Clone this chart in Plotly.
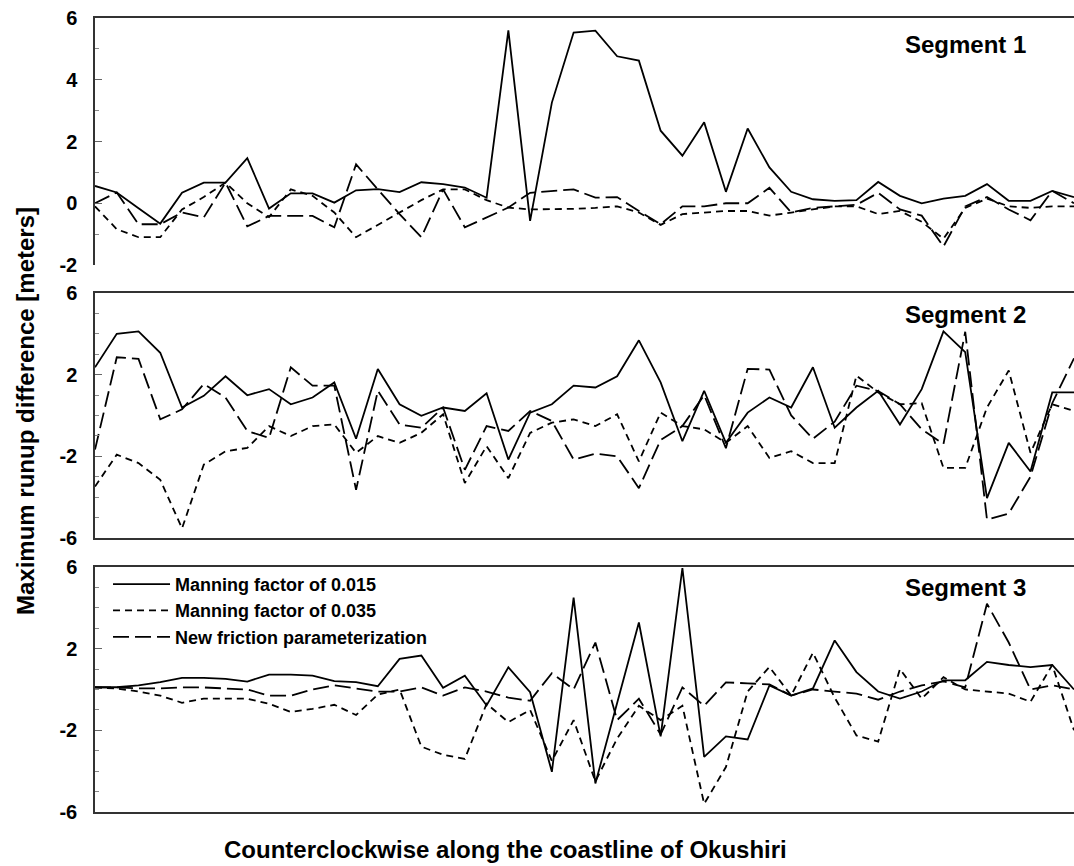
import plotly.graph_objects as go

# ---------------- data ----------------
positions = list(range(46))  # points counterclockwise along the coastline

series_names = ["Manning factor of 0.015", "Manning factor of 0.035", "New friction parameterization"]
segment_labels = ["Segment 1", "Segment 2", "Segment 3"]

seg1_n015 = [0.56, 0.35, -0.16, -0.66, 0.34, 0.67, 0.67, 1.46, -0.17, 0.32,
             0.32, 0.02, 0.42, 0.46, 0.36, 0.68, 0.62, 0.51, 0.18, 5.6,
             -0.57, 3.26, 5.53, 5.59, 4.76, 4.62, 2.35, 1.54, 2.62, 0.37,
             2.42, 1.16, 0.37, 0.13, 0.08, 0.10, 0.69, 0.24, 0.0, 0.15,
             0.24, 0.62, 0.08, 0.08, 0.40, 0.2]
seg1_n035 = [-0.1, -0.84, -1.1, -1.1, -0.2, 0.2, 0.67, 0.0, -0.45, 0.45,
             0.24, -0.3, -1.1, -0.7, -0.3, 0.1, 0.45, 0.45, 0.1, -0.14,
             -0.2, -0.2, -0.18, -0.15, -0.1, -0.3, -0.7, -0.35, -0.3, -0.25,
             -0.25, -0.4, -0.3, -0.2, -0.1, -0.1, -0.35, -0.25, -0.6, -1.15,
             -0.15, 0.15, -0.1, -0.15, -0.1, -0.1]
seg1_new = [0.0, 0.35, -0.68, -0.68, -0.3, -0.46, 0.67, -0.75, -0.41, -0.41,
            -0.41, -0.78, 1.26, 0.45, -0.35, -1.1, 0.45, -0.78, -0.45, -0.14,
            0.34, 0.4, 0.45, 0.18, 0.2, -0.25, -0.68, -0.1, -0.1, 0.0,
            0.0, 0.5, -0.3, -0.15, -0.1, -0.05, 0.34, -0.2, -0.4, -1.4,
            -0.1, 0.2, -0.2, -0.55, 0.4, 0.0]

seg2_n015 = [2.36, 4.0, 4.12, 3.07, 0.39, 0.96, 1.92, 0.99, 1.29, 0.55,
             0.88, 1.62, -1.14, 2.28, 0.55, -0.02, 0.39, 0.22, 1.09, -2.16,
             0.14, 0.55, 1.46, 1.37, 1.92, 3.68, 1.62, -1.26, 1.21, -1.34,
             0.14, 0.88, 0.39, 2.36, -0.6, 0.39, 1.21, -0.44, 1.29, 4.12,
             3.1, -4.05, -1.34, -2.74, 1.13, 1.13]
seg2_n035 = [-3.48, -1.92, -2.33, -3.15, -5.53, -2.41, -1.75, -1.59, -0.52, -1.01,
             -0.52, -0.44, -1.83, -1.01, -1.34, -0.85, 0.06, -3.31, -1.5, -3.07,
             -0.85, -0.35, -0.19, -0.52, 0.06, -2.25, 0.14, -0.52, -0.68, -1.34,
             -0.52, -2.08, -1.75, -2.33, -2.33, 1.95, 1.13, 0.55, 0.6, -2.57,
             -2.57, 0.39, 2.2, -1.83, 0.55, 0.22]
seg2_new = [-1.67, 2.85, 2.77, -0.19, 0.3, 1.54, 0.88, -0.76, -1.1, 2.36,
            1.46, 1.46, -3.64, 1.21, -0.44, -0.6, 0.39, -2.66, -0.52, -0.76,
            0.22, -0.27, -2.16, -1.87, -2.0, -3.56, -1.2, -0.52, 1.0, -1.6,
            2.28, 2.25, 0.0, -1.14, -0.3, 1.46, 1.2, 0.55, -0.68, -1.4,
            4.1, -5.1, -4.8, -3.0, 0.6, 2.8]

seg3_n015 = [0.11, 0.11, 0.2, 0.36, 0.57, 0.57, 0.52, 0.39, 0.73, 0.73,
             0.68, 0.41, 0.36, 0.16, 1.5, 1.66, 0.08, 0.68, -0.78, 1.09,
             -0.13, -4.03, 4.5, -4.6, -0.66, 3.28, -2.3, 5.95, -3.3, -2.3,
             -2.45, 0.2, -0.3, 0.05, 2.4, 0.85, -0.1, -0.45, -0.1, 0.45,
             0.45, 1.35, 1.2, 1.1, 1.2, 0.0]
seg3_n035 = [0.1, 0.05, -0.1, -0.3, -0.65, -0.45, -0.45, -0.45, -0.7, -1.1,
             -0.95, -0.75, -1.25, -0.25, 0.0, -2.8, -3.2, -3.4, -0.7, -1.6,
             -1.0, -3.5, -1.5, -4.5, -2.4, -0.8, -1.5, -0.8, -5.6, -3.8,
             -0.1, 1.1, -0.3, 1.8, -0.4, -2.25, -2.55, 1.0, -0.45, 0.6,
             0.0, -0.1, -0.2, -0.6, 1.2, -2.0]
seg3_new = [0.1, 0.1, 0.05, 0.05, 0.1, 0.1, 0.05, 0.0, -0.3, -0.3,
            0.0, 0.2, 0.05, -0.1, -0.1, 0.1, -0.3, 0.1, -0.1, -0.4,
            -0.55, 0.8, 0.0, 2.3, -1.5, -0.45, -2.2, 0.1, -0.8, 0.35,
            0.3, 0.25, -0.3, 0.0, -0.1, -0.2, -0.5, -0.1, 0.2, 0.4,
            0.1, 4.2, 2.3, 0.0, 0.2, 0.0]

seg1_ticks = [6, 4, 2, 0, -2]
seg23_ticks = [6, 2, -2, -6]

# ---------------- figure ----------------
FONT = "Liberation Sans, Arial, Helvetica, sans-serif"
dashes = ["solid", "7px,5px", "16px,6px"]

fig = go.Figure()
panels = [
    (seg1_n015, seg1_n035, seg1_new),
    (seg2_n015, seg2_n035, seg2_new),
    (seg3_n015, seg3_n035, seg3_new),
]
for p, group in enumerate(panels):
    ax = "" if p == 0 else str(p + 1)
    for s, vals in enumerate(group):
        fig.add_trace(go.Scatter(
            x=positions, y=vals, mode="lines",
            name=series_names[s],
            line=dict(color="black", width=1.8, dash=dashes[s]),
            showlegend=(p == 2),
            xaxis="x" + ax, yaxis="y" + ax,
        ))

# plot area: y from 18px to 812px (height 794)
domains = [[0.6889, 1.0], [0.3451, 0.6537], [0.0, 0.3086]]
ranges = [[-2, 6], [-6, 6], [-6, 6]]
ticks = [seg1_ticks, seg23_ticks, seg23_ticks]

for p in range(3):
    key = "" if p == 0 else str(p + 1)
    fig.layout["xaxis" + key] = dict(
        domain=[0, 1], range=[0, 45], anchor="y" + key,
        showgrid=False, zeroline=False, showticklabels=False, ticks="",
        showline=True, linecolor="#333", linewidth=1.5,
        mirror=(p > 0), side=("top" if p == 0 else "bottom"),
    )
    fig.layout["yaxis" + key] = dict(
        domain=domains[p], range=ranges[p], anchor="x" + key,
        showgrid=False, zeroline=False,
        showline=True, linecolor="#333", linewidth=1.5,
        tickvals=ticks[p], ticktext=[str(t) for t in ticks[p]],
        ticks="inside", ticklen=7, tickcolor="#666", tickwidth=1,
        minor=dict(dtick=1, ticks="inside", ticklen=4, tickcolor="#888"),
        tickfont=dict(family=FONT, size=20, color="black", weight="bold"),
        ticklabelstandoff=12,
    )

annotations = []
seg_y = [0.967, 0.626, 0.283]
for p in range(3):
    annotations.append(dict(
        text=segment_labels[p], xref="paper", yref="paper",
        x=0.889, y=seg_y[p], xanchor="center", yanchor="middle", showarrow=False,
        font=dict(family=FONT, size=24, color="black", weight="bold"),
    ))
annotations.append(dict(
    text="Maximum runup difference [meters]", xref="paper", yref="paper",
    x=-0.0715, y=0.505, xanchor="center", yanchor="middle", textangle=-90,
    showarrow=False, font=dict(family=FONT, size=24, color="black", weight="bold"),
))
annotations.append(dict(
    text="Counterclockwise along the coastline of Okushiri", xref="paper", yref="paper",
    x=0.419, y=-0.047, xanchor="center", yanchor="middle", showarrow=False,
    font=dict(family=FONT, size=24, color="black", weight="bold"),
))

fig.update_layout(
    width=1074, height=866,
    margin=dict(l=95, r=0, t=18, b=54),
    paper_bgcolor="white", plot_bgcolor="white",
    font=dict(family=FONT, color="black"),
    annotations=annotations,
    showlegend=True,
    legend=dict(
        x=0.0133, y=0.31, xanchor="left", yanchor="top",
        bgcolor="rgba(0,0,0,0)", borderwidth=0,
        font=dict(family=FONT, size=18, color="black", weight="bold"),
        itemwidth=57, tracegroupgap=0,
    ),
)

fig.write_html("out.html")
